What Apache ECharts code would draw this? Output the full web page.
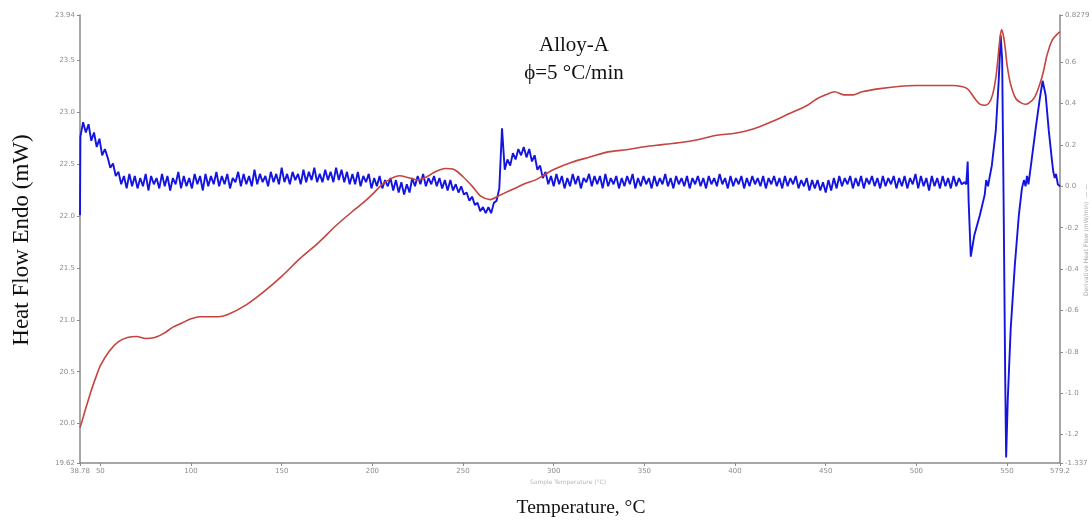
<!DOCTYPE html>
<html>
<head>
<meta charset="utf-8">
<script src="https://cdn.jsdelivr.net/npm/echarts@6/dist/echarts.min.js"></script>
<style>
  html, body { margin: 0; padding: 0; background: #ffffff; }
  #chart { width: 1092px; height: 527px; }
</style>
</head>
<body>
<div id="chart"></div>
<script>
// DSC scan of Alloy-A at 5 °C/min: heat flow (left axis) and its derivative (right axis)

// Axis ticks and their printed labels
const temperatureTicks = [38.78, 50, 100, 150, 200, 250, 300, 350, 400, 450, 500, 550, 579.2];
const temperatureTickLabels = ['38.78', '50', '100', '150', '200', '250', '300', '350', '400', '450', '500', '550', '579.2'];
const heatFlowTicks = [19.62, 20.0, 20.5, 21.0, 21.5, 22.0, 22.5, 23.0, 23.5, 23.94];
const heatFlowTickLabels = ['19.62', '20.0', '20.5', '21.0', '21.5', '22.0', '22.5', '23.0', '23.5', '23.94'];
const derivTicks = [-1.337, -1.2, -1.0, -0.8, -0.6, -0.4, -0.2, 0.0, 0.2, 0.4, 0.6, 0.8279];
const derivTickLabels = ['-1.337', '-1.2', '-1.0', '-0.8', '-0.6', '-0.4', '-0.2', '0.0', '0.2', '0.4', '0.6', '0.8279'];

// Heat flow (mW) against sample temperature (°C)
const heatTemps = [38.78, 40, 42, 45, 48, 50, 55, 60, 65, 70, 75, 80, 85, 90, 95, 100, 105, 110, 115, 120,
  130, 140, 150, 160, 170, 180, 190, 195, 200, 205, 210, 215, 220, 225, 230, 235, 240, 245, 250, 255,
  260, 265, 270, 275, 280, 285, 290, 295, 300, 310, 320, 330, 340, 350, 360, 370, 380, 390, 400, 410,
  420, 430, 440, 445, 450, 455, 460, 465, 470, 480, 490, 500, 510, 520, 525, 528, 530, 532, 535, 538,
  540, 542, 544, 546, 547, 548, 549, 550, 552, 555, 558, 560, 562, 565, 568, 570, 572, 575, 579.2];
const heatFlow = [19.96, 20.03, 20.15, 20.32, 20.47, 20.56, 20.70, 20.79, 20.83, 20.84, 20.82, 20.83, 20.87, 20.93, 20.97, 21.01, 21.03, 21.03, 21.03, 21.05,
  21.14, 21.27, 21.42, 21.59, 21.74, 21.91, 22.06, 22.13, 22.21, 22.30, 22.36, 22.39, 22.37, 22.35, 22.38, 22.43, 22.46, 22.45, 22.38, 22.29,
  22.19, 22.16, 22.20, 22.24, 22.28, 22.32, 22.35, 22.40, 22.45, 22.52, 22.57, 22.62, 22.64, 22.67, 22.69, 22.71, 22.74, 22.78, 22.80, 22.84,
  22.91, 22.99, 23.07, 23.13, 23.17, 23.20, 23.17, 23.17, 23.20, 23.23, 23.25, 23.26, 23.26, 23.26, 23.25, 23.23, 23.19, 23.14, 23.08, 23.07,
  23.09, 23.17, 23.36, 23.70, 23.80, 23.74, 23.62, 23.46, 23.27, 23.13, 23.09, 23.08, 23.09, 23.14, 23.27, 23.39, 23.55, 23.70, 23.78];

// Derivative heat flow (mW/min): first reading, then the regularly sampled noisy trace
const derivFirstTemp = 38.78;
const derivFirstValue = -0.14;
const derivSampleStart = 39;
const derivSampleStep = 1.5;
const derivSamples = [
  0.24, 0.31, 0.26, 0.30, 0.22, 0.26, 0.19, 0.23, 0.15, 0.18,
  0.14, 0.09, 0.11, 0.05, 0.07, 0.01, 0.05, -0.01, 0.06, 0.00,
  0.05, -0.01, 0.04, 0.00, 0.06, -0.02, 0.05, 0.01, 0.04, -0.01,
  0.06, 0.00, 0.05, -0.02, 0.04, 0.01, 0.07, -0.01, 0.05, 0.00,
  0.04, -0.01, 0.06, 0.01, 0.05, -0.02, 0.06, 0.00, 0.05, 0.01,
  0.07, 0.00, 0.05, 0.01, 0.06, -0.01, 0.04, 0.02, 0.07, 0.00,
  0.06, 0.01, 0.05, 0.00, 0.08, 0.01, 0.06, 0.02, 0.05, 0.00,
  0.07, 0.02, 0.06, 0.01, 0.09, 0.02, 0.06, 0.01, 0.07, 0.03,
  0.06, 0.01, 0.08, 0.02, 0.07, 0.03, 0.09, 0.02, 0.06, 0.02,
  0.08, 0.03, 0.07, 0.02, 0.09, 0.03, 0.08, 0.02, 0.07, 0.01,
  0.06, 0.01, 0.07, 0.00, 0.05, 0.02, 0.06, -0.01, 0.04, 0.00,
  0.05, -0.01, 0.03, 0.00, 0.04, -0.02, 0.03, -0.03, 0.02, -0.04,
  0.01, -0.03, 0.04, 0.00, 0.05, 0.01, 0.06, 0.00, 0.04, 0.01,
  0.05, 0.00, 0.04, -0.01, 0.03, -0.02, 0.03, -0.02, 0.01, -0.03,
  0.00, -0.04, -0.03, -0.07, -0.05, -0.09, -0.08, -0.12, -0.10, -0.13,
  -0.10, -0.13, -0.08, -0.07, -0.01, 0.28, 0.08, 0.13, 0.10, 0.16,
  0.13, 0.18, 0.15, 0.19, 0.14, 0.18, 0.12, 0.15, 0.08, 0.10,
  0.04, 0.07, 0.01, 0.05, 0.00, 0.06, 0.01, 0.05, -0.01, 0.04,
  0.00, 0.06, 0.01, 0.05, -0.01, 0.04, 0.02, 0.06, 0.00, 0.05,
  0.01, 0.05, -0.01, 0.06, 0.00, 0.04, 0.01, 0.05, -0.01, 0.04,
  0.00, 0.05, 0.01, 0.06, -0.01, 0.04, 0.00, 0.05, 0.01, 0.04,
  -0.01, 0.05, 0.00, 0.04, 0.01, 0.06, 0.00, 0.04, -0.01, 0.05,
  0.01, 0.04, 0.00, 0.05, -0.01, 0.04, 0.01, 0.05, 0.00, 0.04,
  -0.01, 0.05, 0.01, 0.04, 0.00, 0.06, 0.01, 0.04, -0.01, 0.05,
  0.00, 0.04, 0.01, 0.05, -0.01, 0.04, 0.00, 0.05, 0.01, 0.04,
  0.00, 0.05, -0.01, 0.04, 0.01, 0.05, 0.00, 0.04, -0.01, 0.05,
  0.00, 0.04, 0.01, 0.05, -0.01, 0.03, 0.00, 0.04, -0.02, 0.03,
  -0.01, 0.03, -0.02, 0.02, -0.03, 0.03, -0.02, 0.04, -0.01, 0.05,
  0.00, 0.04, 0.01, 0.05, -0.01, 0.04, 0.00, 0.05, -0.01, 0.04,
  0.01, 0.05, 0.00, 0.04, -0.01, 0.05, 0.00, 0.04, 0.01, 0.05,
  -0.01, 0.04, 0.00, 0.05, -0.01, 0.04, 0.01, 0.06, -0.01, 0.05,
  0.00, 0.04, -0.02, 0.05, 0.00, 0.04, -0.01, 0.05, 0.00, 0.04,
  -0.01, 0.05, 0.00, 0.04, 0.01
];
// Melting region: readings taken at their own temperatures
const derivPeakTemps = [526.5, 527.5, 528.3, 528.8, 530, 532, 535, 537.7, 538.5, 539.5, 540.3, 541.6, 543.8, 545.4, 546.5, 547.3, 548.1, 549, 549.5, 550.4,
  552, 554.3, 556.5, 558.2, 559.3, 560.2, 561, 561.8, 563.6, 565.8, 568, 569.6, 571.3, 573, 574.7, 575.5, 576.3, 577, 578, 579.2];
const derivPeakValues = [0.02, 0.01, 0.12, -0.07, -0.34, -0.235, -0.14, -0.04, 0.03, 0.00, 0.04, 0.10, 0.27, 0.51, 0.73, 0.61, -0.07, -0.94, -1.31, -1.03,
  -0.69, -0.38, -0.14, -0.01, 0.03, 0.00, 0.05, 0.01, 0.13, 0.28, 0.42, 0.51, 0.44, 0.27, 0.13, 0.07, 0.04, 0.06, 0.01, 0.00];

const heatData = heatTemps.map((t, i) => [t, heatFlow[i]]);
const derivData = [[derivFirstTemp, derivFirstValue]]
  .concat(derivSamples.map((v, i) => [derivSampleStart + derivSampleStep * i, v]))
  .concat(derivPeakTemps.map((t, i) => [t, derivPeakValues[i]]));

function tickLabel(ticks, labels) {
  return function (value) {
    let best = 0;
    for (let i = 1; i < ticks.length; i++) {
      if (Math.abs(ticks[i] - value) < Math.abs(ticks[best] - value)) best = i;
    }
    return labels[best];
  };
}

const axisGrey = '#8a8a8a';
const smallLabel = { color: '#8c8c8c', fontSize: 7, fontFamily: 'DejaVu Sans' };

const chart = echarts.init(document.getElementById('chart'), null, { renderer: 'canvas' });
chart.setOption({
  animation: false,
  backgroundColor: '#ffffff',
  grid: { left: 80, right: 32, top: 15, bottom: 64, containLabel: false, outerBoundsMode: 'none' },
  xAxis: {
    type: 'value',
    min: temperatureTicks[0],
    max: temperatureTicks[temperatureTicks.length - 1],
    axisLine: { show: true, onZero: false, lineStyle: { color: axisGrey, width: 1.5 } },
    axisTick: { show: true, length: 3, lineStyle: { color: axisGrey }, customValues: temperatureTicks },
    axisLabel: Object.assign({ margin: 5, customValues: temperatureTicks, formatter: tickLabel(temperatureTicks, temperatureTickLabels) }, smallLabel),
    splitLine: { show: false }
  },
  yAxis: [
    {
      type: 'value',
      position: 'left',
      min: heatFlowTicks[0],
      max: heatFlowTicks[heatFlowTicks.length - 1],
      axisLine: { show: true, onZero: false, lineStyle: { color: axisGrey, width: 1.5 } },
      axisTick: { show: true, length: 3, lineStyle: { color: axisGrey }, customValues: heatFlowTicks },
      axisLabel: Object.assign({ margin: 5, customValues: heatFlowTicks, formatter: tickLabel(heatFlowTicks, heatFlowTickLabels) }, smallLabel),
      splitLine: { show: false }
    },
    {
      type: 'value',
      position: 'right',
      min: derivTicks[0],
      max: derivTicks[derivTicks.length - 1],
      axisLine: { show: true, onZero: false, lineStyle: { color: axisGrey, width: 1.5 } },
      axisTick: { show: true, length: 3, lineStyle: { color: axisGrey }, customValues: derivTicks },
      axisLabel: Object.assign({ margin: 5, customValues: derivTicks, formatter: tickLabel(derivTicks, derivTickLabels) }, smallLabel),
      splitLine: { show: false }
    }
  ],
  series: [
    {
      name: 'Heat Flow Endo',
      type: 'line',
      yAxisIndex: 0,
      data: heatData,
      showSymbol: false,
      smooth: 0.3,
      lineStyle: { color: '#c4443f', width: 1.6 },
      z: 3
    },
    {
      name: 'Derivative Heat Flow',
      type: 'line',
      yAxisIndex: 1,
      data: derivData,
      showSymbol: false,
      sampling: 'none',
      lineStyle: { color: '#1414e0', width: 1.9 },
      z: 2
    }
  ],
  graphic: [
    {
      type: 'text', x: 574, y: 45,
      style: { text: 'Alloy-A', font: '21px "Liberation Serif"', fill: '#111', textAlign: 'center', textVerticalAlign: 'middle' }
    },
    {
      type: 'text', x: 574, y: 73,
      style: { text: 'ϕ=5 °C/min', font: '21px "Liberation Serif"', fill: '#111', textAlign: 'center', textVerticalAlign: 'middle' }
    },
    {
      type: 'text', x: 581, y: 508,
      style: { text: 'Temperature, °C', font: '19.5px "Liberation Serif"', fill: '#111', textAlign: 'center', textVerticalAlign: 'middle' }
    },
    {
      type: 'text', x: 22, y: 240, rotation: Math.PI / 2,
      style: { text: 'Heat Flow Endo (mW)', font: '23px "Liberation Serif"', fill: '#111', textAlign: 'center', textVerticalAlign: 'middle' }
    },
    {
      type: 'text', x: 568, y: 482,
      style: { text: 'Sample Temperature (°C)', font: '6px "DejaVu Sans"', fill: '#b8b8b8', textAlign: 'center', textVerticalAlign: 'middle' }
    },
    {
      type: 'text', x: 1086, y: 240, rotation: Math.PI / 2,
      style: { text: 'Derivative Heat Flow (mW/min)  — —', font: '6px "DejaVu Sans"', fill: '#a8a8a8', textAlign: 'center', textVerticalAlign: 'middle' }
    }
  ]
});
</script>
</body>
</html>
